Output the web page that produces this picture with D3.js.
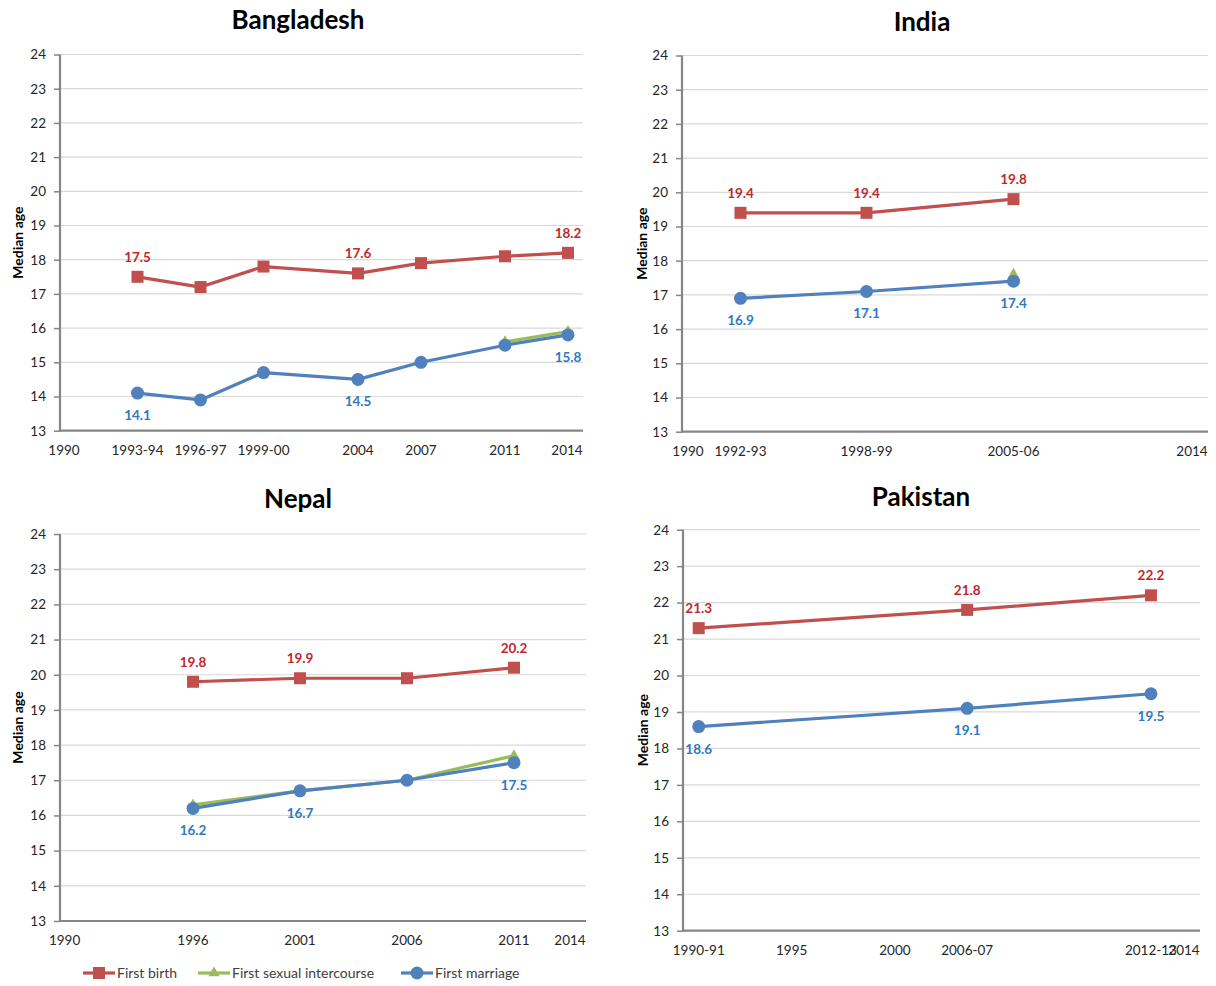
<!DOCTYPE html>
<html>
<head>
<meta charset="utf-8">
<script src="https://cdn.jsdelivr.net/npm/d3@7"></script>
<style>
  html, body { margin: 0; padding: 0; background: #ffffff; }
  svg { display: block; font-family: Lato, "Liberation Sans", sans-serif; }
</style>
</head>
<body>
<svg id="chart" width="1216" height="986"></svg>
<script>
// ---- Data: median age at first birth / first sexual intercourse / first marriage ----
const seriesNames = ["First birth", "First sexual intercourse", "First marriage"];
const yTicks = [13, 14, 15, 16, 17, 18, 19, 20, 21, 22, 23, 24];

// Bangladesh
const bangladeshYears = [1993.5, 1996.5, 1999.5, 2004, 2007, 2011, 2014];
const bangladeshSurveys = ["1993-94", "1996-97", "1999-00", "2004", "2007", "2011", "2014"];
const bangladeshBirth = [17.5, 17.2, 17.8, 17.6, 17.9, 18.1, 18.2];
const bangladeshSexYears = [2011, 2014];
const bangladeshSex = [15.6, 15.9];
const bangladeshMarriage = [14.1, 13.9, 14.7, 14.5, 15.0, 15.5, 15.8];
const bangladeshLabelled = [0, 3, 6];
const bangladeshExtraTicks = [[1990, "1990"]];

// India
const indiaYears = [1992.5, 1998.5, 2005.5];
const indiaSurveys = ["1992-93", "1998-99", "2005-06"];
const indiaBirth = [19.4, 19.4, 19.8];
const indiaSexYears = [2005.5];
const indiaSex = [17.6];
const indiaMarriage = [16.9, 17.1, 17.4];
const indiaLabelled = [0, 1, 2];
const indiaExtraTicks = [[1990, "1990"], [2014, "2014"]];

// Nepal
const nepalYears = [1996, 2001, 2006, 2011];
const nepalSurveys = ["1996", "2001", "2006", "2011"];
const nepalBirth = [19.8, 19.9, 19.9, 20.2];
const nepalSexYears = [1996, 2001, 2006, 2011];
const nepalSex = [16.3, 16.7, 17.0, 17.7];
const nepalMarriage = [16.2, 16.7, 17.0, 17.5];
const nepalLabelled = [0, 1, 3];
const nepalExtraTicks = [[1990, "1990"], [2014, "2014"]];

// Pakistan
const pakistanYears = [1990.5, 2003.5, 2012.4];
const pakistanSurveys = ["1990-91", "2006-07", "2012-13"];
const pakistanBirth = [21.3, 21.8, 22.2];
const pakistanSexYears = [];
const pakistanSex = [];
const pakistanMarriage = [18.6, 19.1, 19.5];
const pakistanLabelled = [0, 1, 2];
const pakistanExtraTicks = [[1995, "1995"], [2000, "2000"], [2014, "2014"]];

// ---- Styling ----
const colors = { birth: "#C0504D", sex: "#9BBB59", marriage: "#4F81BD" };
const labelColors = { birth: "#C0282D", marriage: "#2F78C4" };
const textColor = "#262626";

// Panel geometry (plot area bounds and x-range for the year scale)
const panels = [
  { name: "Bangladesh", years: bangladeshYears, surveys: bangladeshSurveys, birth: bangladeshBirth,
    sexYears: bangladeshSexYears, sex: bangladeshSex, marriage: bangladeshMarriage,
    labelled: bangladeshLabelled, extra: bangladeshExtraTicks,
    box: { left: 60, right: 583, top: 54.5, bottom: 430.7, x0: 64, x1: 568, titleX: 298, titleY: 29, axisTitleX: 23 } },
  { name: "India", years: indiaYears, surveys: indiaSurveys, birth: indiaBirth,
    sexYears: indiaSexYears, sex: indiaSex, marriage: indiaMarriage,
    labelled: indiaLabelled, extra: indiaExtraTicks,
    box: { left: 682, right: 1208, top: 55.5, bottom: 431.7, x0: 688, x1: 1192, titleX: 922, titleY: 31, axisTitleX: 647 } },
  { name: "Nepal", years: nepalYears, surveys: nepalSurveys, birth: nepalBirth,
    sexYears: nepalSexYears, sex: nepalSex, marriage: nepalMarriage,
    labelled: nepalLabelled, extra: nepalExtraTicks,
    box: { left: 60, right: 586, top: 534, bottom: 921, x0: 64.6, x1: 578.2, titleX: 298, titleY: 508, axisTitleX: 23 } },
  { name: "Pakistan", years: pakistanYears, surveys: pakistanSurveys, birth: pakistanBirth,
    sexYears: pakistanSexYears, sex: pakistanSex, marriage: pakistanMarriage,
    labelled: pakistanLabelled, extra: pakistanExtraTicks,
    box: { left: 683, right: 1200, top: 529.7, bottom: 930.7, x0: 688.4, x1: 1184, titleX: 921, titleY: 506, axisTitleX: 648 } }
];

const svg = d3.select("#chart");

function drawMarker(g, type, x, y, color) {
  if (type === "birth") {
    g.append("rect").attr("x", x - 6).attr("y", y - 6).attr("width", 12).attr("height", 12).attr("fill", color);
  } else if (type === "sex") {
    g.append("path").attr("d", d3.symbol(d3.symbolTriangle, 55)()).attr("transform", `translate(${x},${y})`).attr("fill", color);
  } else {
    g.append("circle").attr("cx", x).attr("cy", y).attr("r", 6.5).attr("fill", color);
  }
}

panels.forEach(p => {
  const b = p.box;
  const g = svg.append("g");
  const x = d3.scaleLinear().domain([1990, 2014]).range([b.x0, b.x1]);
  const y = d3.scaleLinear().domain([13, 24]).range([b.bottom, b.top]);

  // gridlines
  g.append("g").selectAll("line").data(yTicks.filter(t => t > 13)).join("line")
    .attr("x1", b.left).attr("x2", b.right)
    .attr("y1", d => y(d)).attr("y2", d => y(d))
    .attr("stroke", "#D9D9D9").attr("stroke-width", 1.2);

  // y axis
  const yAxis = d3.axisLeft(y).tickValues(yTicks).tickSize(6).tickPadding(8).tickFormat(d3.format("d"));
  const ya = g.append("g").attr("transform", `translate(${b.left},0)`).call(yAxis);
  ya.select(".domain").remove();
  ya.selectAll(".tick line").attr("stroke", "#868686").attr("stroke-width", 1.5);
  ya.selectAll(".tick text").attr("fill", textColor).attr("font-size", 13.5).attr("font-family", "Lato, sans-serif");

  // axis lines
  g.append("line").attr("x1", b.left).attr("x2", b.left).attr("y1", b.top).attr("y2", b.bottom + 1)
    .attr("stroke", "#868686").attr("stroke-width", 2.2);
  g.append("line").attr("x1", b.left).attr("x2", b.right).attr("y1", b.bottom).attr("y2", b.bottom)
    .attr("stroke", "#868686").attr("stroke-width", 2.2);

  // x tick labels: survey years plus reference years
  const xLabels = p.years.map((v, i) => [v, p.surveys[i]]).concat(p.extra).sort((a, c) => a[0] - c[0]);
  g.append("g").selectAll("text").data(xLabels).join("text")
    .attr("x", d => Math.min(x(d[0]), b.right - 16))
    .attr("y", b.bottom + 24)
    .attr("text-anchor", "middle")
    .attr("font-size", 13.5).attr("fill", textColor)
    .text(d => d[1]);

  // y axis title
  g.append("text")
    .attr("transform", `translate(${b.axisTitleX},${(b.top + b.bottom) / 2}) rotate(-90)`)
    .attr("text-anchor", "middle").attr("font-size", 14).attr("font-weight", 700).attr("fill", "#000")
    .text("Median age");

  // panel title
  g.append("text").attr("x", b.titleX).attr("y", b.titleY)
    .attr("text-anchor", "middle").attr("font-size", 26).attr("font-weight", 700).attr("fill", "#000")
    .text(p.name);

  const line = d3.line().x(d => x(d[0])).y(d => y(d[1]));
  const series = [
    { key: "birth", pts: p.years.map((v, i) => [v, p.birth[i]]) },
    { key: "sex", pts: p.sexYears.map((v, i) => [v, p.sex[i]]) },
    { key: "marriage", pts: p.years.map((v, i) => [v, p.marriage[i]]) }
  ];
  series.forEach(s => {
    if (!s.pts.length) return;
    const sg = g.append("g");
    if (s.pts.length > 1) {
      sg.append("path").datum(s.pts).attr("d", line)
        .attr("fill", "none").attr("stroke", colors[s.key]).attr("stroke-width", 3.2)
        .attr("stroke-linejoin", "round");
    }
    s.pts.forEach(d => drawMarker(sg, s.key, x(d[0]), y(d[1]), colors[s.key]));
  });

  // value labels
  const lg = g.append("g").attr("font-size", 13.5).attr("font-weight", 700).attr("text-anchor", "middle");
  p.labelled.forEach(i => {
    lg.append("text").attr("x", x(p.years[i])).attr("y", y(p.birth[i]) - 15)
      .attr("fill", labelColors.birth).text(d3.format(".1f")(p.birth[i]));
    lg.append("text").attr("x", x(p.years[i])).attr("y", y(p.marriage[i]) + 27)
      .attr("fill", labelColors.marriage).text(d3.format(".1f")(p.marriage[i]));
  });
});

// legend
const legendKeys = ["birth", "sex", "marriage"];
const legendX = [83, 198, 401];
const lg = svg.append("g");
legendKeys.forEach((k, i) => {
  const x0 = legendX[i], yy = 973;
  lg.append("line").attr("x1", x0).attr("x2", x0 + 32).attr("y1", yy).attr("y2", yy)
    .attr("stroke", colors[k]).attr("stroke-width", 3.2);
  drawMarker(lg, k, x0 + 16, yy, colors[k]);
  lg.append("text").attr("x", x0 + 34).attr("y", yy + 5)
    .attr("font-size", 14).attr("fill", "#404040").text(seriesNames[i]);
});
</script>
</body>
</html>
